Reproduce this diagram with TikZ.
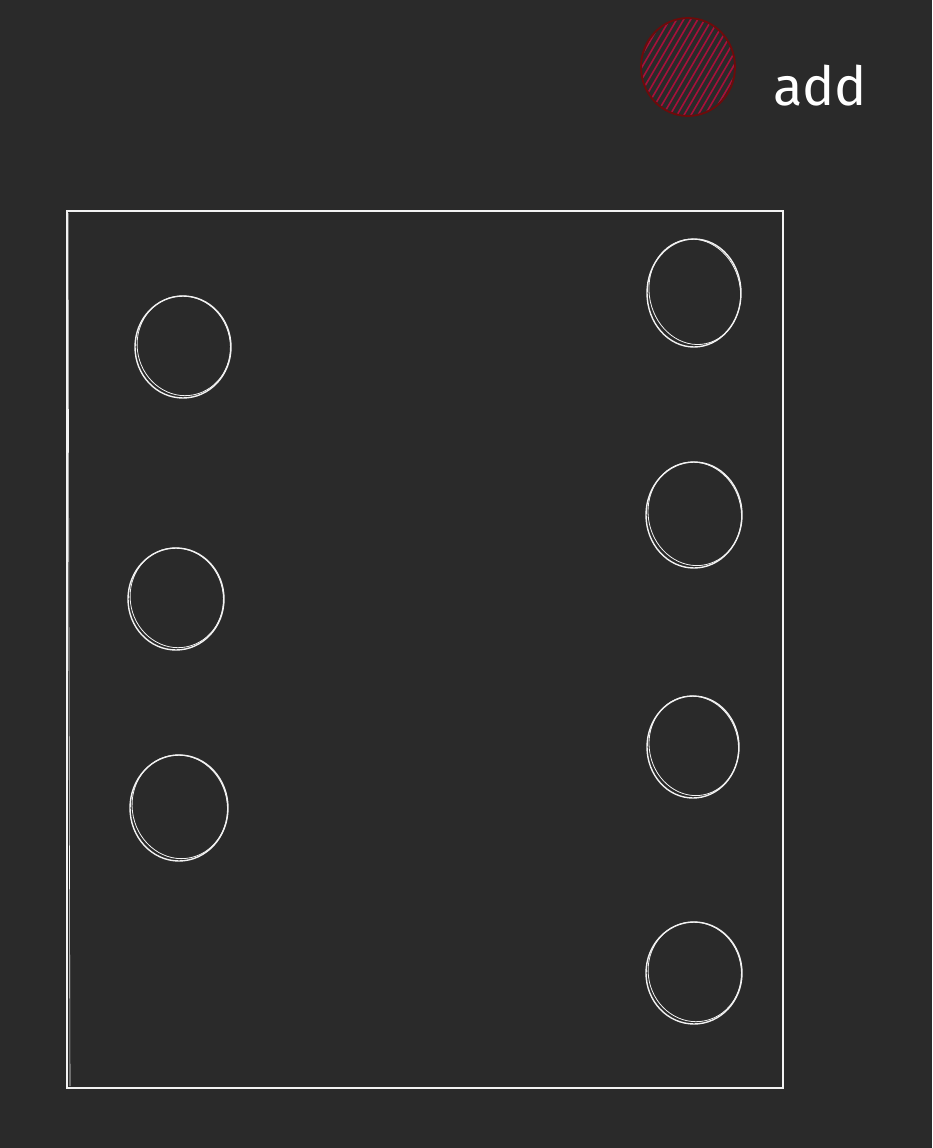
\documentclass[tikz,border=0pt]{standalone}
\usepackage{fontspec}
\setmainfont{Fira Sans}
\usetikzlibrary{shapes.geometric,calc}
\definecolor{bg}{HTML}{2A2A2A}
\definecolor{ink}{HTML}{F2F2F2}
\definecolor{redstroke}{HTML}{6E0A0A}
\definecolor{redhatch}{HTML}{A8103A}
\tikzset{
  sketchcircle/.style={ellipse, draw=ink, line width=1.4pt, inner sep=0pt},
  frame/.style={draw=ink, line width=1.2pt},
}
\begin{document}
\begin{tikzpicture}[x=1pt,y=-1pt]
\fill[bg] (0,0) rectangle (932,1148);
\useasboundingbox (0,0) rectangle (932,1148);
% frame
\node[frame, rectangle, minimum width=716pt, minimum height=877pt, inner sep=0pt] (box) at (425,649.5) {};
\draw[draw=ink, line width=0.6pt] (68,213) -- (70,1086);
% red circle with hatching
\begin{scope}
\clip (688,67) ellipse [x radius=46, y radius=48];
\foreach \i in {-130,-123,...,130} {
  \draw[redhatch, line width=1.6pt] ($(688,67)+(\i,0)+(-35,60)$) -- ($(688,67)+(\i,0)+(35,-60)$);
}
\end{scope}
\node[ellipse, draw=redstroke, line width=1.8pt, minimum width=94pt, minimum height=98pt, inner sep=0pt] (red) at (688,67) {};
\node[font=\fontsize{54}{60}\selectfont, text=white, anchor=base] (add) at (820,105) {add};
% white circles
\foreach \n/\x/\y/\w/\h in {l1/183/347/96/102, l2/176/599/96/102, l3/179/808/98/106, r1/694/293/94/108, r2/694/515/96/106, r3/693/747/92/102, r4/694/973/96/102} {
  \node[sketchcircle, minimum width=\w pt, minimum height=\h pt] (\n) at (\x,\y) {};
  \draw[ink, line width=0.8pt, rotate around={12:(\x,\y)}] (\x+1,\y-1) ellipse [x radius=\w/2-1.5, y radius=\h/2-1];
}
\end{tikzpicture}
\end{document}
